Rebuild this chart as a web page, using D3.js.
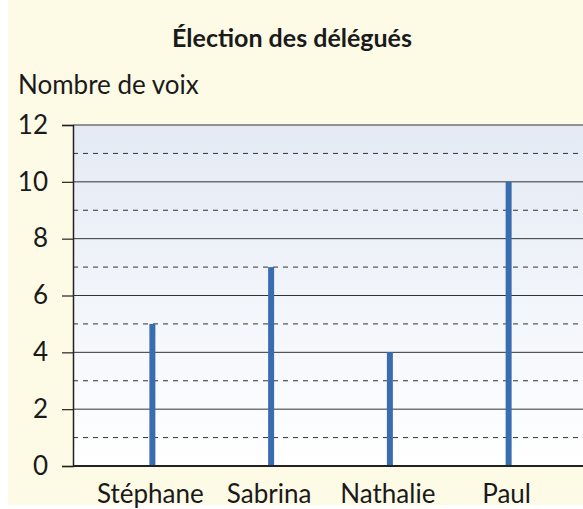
<!DOCTYPE html>
<html>
<head>
<meta charset="utf-8">
<script src="https://cdn.jsdelivr.net/npm/d3@7"></script>
<style>
  body { margin: 0; background: #fff; }
  text { font-family: Lato, "Open Sans", sans-serif; fill: #1a1a1a; }
</style>
</head>
<body>
<svg id="chart"></svg>
<script>
var WIDTH = 583, HEIGHT = 509;

var candidats = ["Stéphane", "Sabrina", "Nathalie", "Paul"];
var voix = [5, 7, 4, 10];
var yTicks = [0, 2, 4, 6, 8, 10, 12];
var yMinor = [1, 3, 5, 7, 9, 11];
var titre = "Élection des délégués";
var titreAxe = "Nombre de voix";

var svg = d3.select("#chart")
  .attr("width", WIDTH)
  .attr("height", HEIGHT);

var plotLeft = 73, plotRight = 590, plotTop = 125, plotBottom = 466;

var x = d3.scaleBand().domain(candidats).range([93, 568]).padding(0);
var y = d3.scaleLinear().domain([0, 12]).range([plotBottom, plotTop]);

var defs = svg.append("defs");
var grad = defs.append("linearGradient").attr("id", "fond")
  .attr("x1", 0).attr("y1", 0).attr("x2", 0).attr("y2", 1);
grad.append("stop").attr("offset", "0%").attr("stop-color", "#e4eaf4");
grad.append("stop").attr("offset", "55%").attr("stop-color", "#f3f6fb");
grad.append("stop").attr("offset", "100%").attr("stop-color", "#ffffff");

// page background
svg.append("rect").attr("x", 8).attr("y", 0).attr("width", WIDTH).attr("height", HEIGHT - 4)
  .attr("fill", "#fdfbe6");

// plot area
svg.append("rect")
  .attr("x", plotLeft).attr("y", y(12))
  .attr("width", plotRight - plotLeft).attr("height", y(0) - y(12))
  .attr("fill", "url(#fond)");

// dashed minor lines
svg.append("g").selectAll("line").data(yMinor).enter().append("line")
  .attr("x1", plotLeft).attr("x2", plotRight)
  .attr("y1", function(d) { return y(d); })
  .attr("y2", function(d) { return y(d); })
  .attr("stroke", "#333")
  .attr("stroke-width", 1)
  .attr("stroke-dasharray", "5,5");

// solid major lines
svg.append("g").selectAll("line").data(yTicks.filter(function(d) { return d > 0; })).enter().append("line")
  .attr("x1", plotLeft).attr("x2", plotRight)
  .attr("y1", function(d) { return y(d); })
  .attr("y2", function(d) { return y(d); })
  .attr("stroke", "#333")
  .attr("stroke-width", 1);

// y axis
var yAxis = svg.append("g")
  .attr("transform", "translate(" + plotLeft + ",0)")
  .call(d3.axisLeft(y).tickValues(yTicks).tickSize(11).tickPadding(14));
yAxis.select(".domain").attr("stroke", "#222").attr("stroke-width", 1.5);
yAxis.selectAll(".tick line").attr("stroke", "#222").attr("stroke-width", 1.2);
yAxis.selectAll("text")
  .style("font-family", "Lato, sans-serif")
  .style("font-size", "26px")
  .attr("fill", "#1a1a1a");

// bars
svg.append("g").selectAll("rect").data(voix).enter().append("rect")
  .attr("x", function(d, i) { return x(candidats[i]) + x.bandwidth() / 2 - 3; })
  .attr("y", function(d) { return y(d); })
  .attr("width", 6)
  .attr("height", function(d) { return y(0) - y(d); })
  .attr("fill", "#3a6db0");

// x axis line
svg.append("line")
  .attr("x1", plotLeft).attr("x2", plotRight)
  .attr("y1", y(0)).attr("y2", y(0))
  .attr("stroke", "#222").attr("stroke-width", 2);

// category labels
svg.append("g").selectAll("text").data(candidats).enter().append("text")
  .attr("x", function(d) { return x(d) + x.bandwidth() / 2 - 2; })
  .attr("y", 503)
  .attr("text-anchor", "middle")
  .style("font-size", "26px")
  .text(function(d) { return d; });

// titles
svg.append("text")
  .attr("x", 292).attr("y", 47)
  .attr("text-anchor", "middle")
  .style("font-size", "25px")
  .style("font-weight", "bold")
  .text(titre);

svg.append("text")
  .attr("x", 18).attr("y", 94)
  .style("font-size", "26px")
  .text(titreAxe);
</script>
</body>
</html>
